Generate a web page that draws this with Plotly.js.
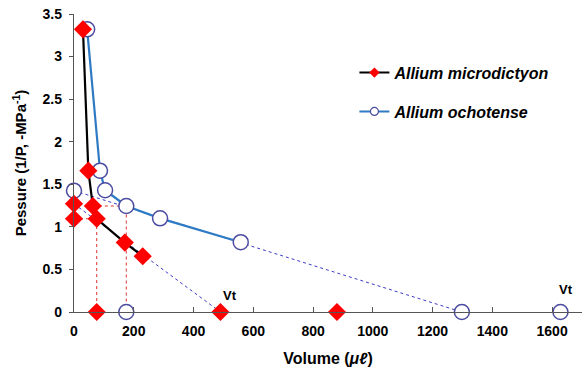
<!DOCTYPE html>
<html>
<head>
<meta charset="utf-8">
<script src="https://cdn.plot.ly/plotly-3.0.1.min.js"></script>
<style>html,body{margin:0;padding:0;background:#fff;}#chart{width:584px;height:374px;}</style>
</head>
<body>
<div id="chart"></div>
<script>
// Allium microdictyon (curve)
const microX = [30, 48, 63, 76, 170, 230];
const microY = [3.32, 1.66, 1.245, 1.095, 0.815, 0.655];
// Allium microdictyon extra points (intercepts / Vt)
const microExtraX = [0, 0, 76, 490, 880];
const microExtraY = [1.27, 1.095, 0, 0, 0];
// Allium ochotense (curve)
const ochoX = [44, 87, 104, 175, 288, 558];
const ochoY = [3.32, 1.66, 1.43, 1.245, 1.10, 0.82];
// Allium ochotense extra points
const ochoExtraX = [0, 175, 1298, 1628];
const ochoExtraY = [1.425, 0, 0, 0];
// Extrapolation lines (blue dashed)
const microFitX = [0, 490];
const microFitY = [1.27, 0];
const ochoFitX = [0, 1298];
const ochoFitY = [1.425, 0];
// Red dashed guide lines
const guide1X = [0, 76, 76];
const guide1Y = [1.095, 1.095, 0];
const guide2X = [63, 175, 175];
const guide2Y = [1.245, 1.245, 0];
// Vt labels
const vtX = [490, 1628];
const vtLabels = ['Vt', 'Vt'];
const seriesNames = ['Allium microdictyon', 'Allium ochotense'];

const redDiamond = {symbol: 'diamond', size: 14, color: '#FF0000', line: {width: 0}};
const blueCircle = {symbol: 'circle', size: 15, color: '#FFFFFF', line: {width: 1.5, color: '#4B4BA0'}};

const traces = [
  {x: guide1X, y: guide1Y, mode: 'lines', line: {color: '#E03030', width: 1, dash: 'dot'}, showlegend: false, hoverinfo: 'skip'},
  {x: guide2X, y: guide2Y, mode: 'lines', line: {color: '#E03030', width: 1, dash: 'dot'}, showlegend: false, hoverinfo: 'skip'},
  {x: microFitX, y: microFitY, mode: 'lines', line: {color: '#3B3BC8', width: 1, dash: 'dot'}, showlegend: false, hoverinfo: 'skip'},
  {x: ochoFitX, y: ochoFitY, mode: 'lines', line: {color: '#3B3BC8', width: 1, dash: 'dot'}, showlegend: false, hoverinfo: 'skip'},
  {x: ochoX, y: ochoY, mode: 'lines+markers', showlegend: false,
   line: {color: '#2E7BC4', width: 2.2}, marker: blueCircle, cliponaxis: false},
  {x: ochoExtraX, y: ochoExtraY, mode: 'markers', marker: blueCircle, showlegend: false, cliponaxis: false},
  {x: microX, y: microY, mode: 'lines+markers', showlegend: false,
   line: {color: '#000000', width: 2.2}, marker: redDiamond, cliponaxis: false},
  {x: microExtraX, y: microExtraY, mode: 'markers', marker: redDiamond, showlegend: false, cliponaxis: false},
  // legend entries with small symbols
  {x: [null], y: [null], mode: 'lines+markers', name: '<b><i>' + seriesNames[0] + '</i></b>', legendgroup: 'a', legendrank: 1,
   line: {color: '#000000', width: 2}, marker: {symbol: 'diamond', size: 8, color: '#FF0000'}},
  {x: [null], y: [null], mode: 'lines+markers', name: '<b><i>' + seriesNames[1] + '</i></b>', legendgroup: 'b', legendrank: 2,
   line: {color: '#2E7BC4', width: 2}, marker: {symbol: 'circle', size: 8, color: '#FFFFFF', line: {width: 1.2, color: '#4B4BA0'}}}
];

const layout = {
  width: 584, height: 374,
  margin: {l: 74, r: 2, t: 14, b: 62},
  paper_bgcolor: '#FFFFFF', plot_bgcolor: '#FFFFFF',
  font: {family: 'Liberation Sans, Arial, sans-serif', color: '#000000'},
  showlegend: true,
  legend: {x: 0.552, y: 0.86, xanchor: 'left', yanchor: 'top', bgcolor: 'rgba(0,0,0,0)',
           font: {size: 16, color: '#000'}, tracegroupgap: 15, itemwidth: 30},
  xaxis: {
    range: [0, 1700], tickvals: [0, 200, 400, 600, 800, 1000, 1200, 1400, 1600],
    ticks: 'inside', ticklen: 5, tickcolor: '#555', showgrid: false, zeroline: false,
    showline: true, linecolor: '#555', linewidth: 1.2, ticklabelstandoff: 6,
    tickfont: {size: 14, family: 'Liberation Sans, Arial, sans-serif', weight: 'bold'},
    title: {text: '<b>Volume (<i>μℓ</i>)</b>', font: {size: 16}, standoff: 14}
  },
  yaxis: {
    range: [0, 3.5], tickvals: [0, 0.5, 1, 1.5, 2, 2.5, 3, 3.5], ticktext: ['0','0.5','1','1.5','2','2.5','3','3.5'],
    ticks: 'outside', ticklen: 4, tickcolor: '#555', showgrid: false, zeroline: false,
    showline: true, linecolor: '#555', linewidth: 1.2, ticklabelstandoff: 4,
    tickfont: {size: 14, family: 'Liberation Sans, Arial, sans-serif', weight: 'bold'},
    title: {text: '<b>Pessure (1/P, -MPa<sup>-1</sup>)</b>', font: {size: 15}, standoff: 12}
  },
  annotations: [
    {x: vtX[0], y: 0, text: '<b>' + vtLabels[0] + '</b>', showarrow: false, yshift: 17, xshift: 10, font: {size: 13}},
    {x: vtX[1], y: 0, text: '<b>' + vtLabels[1] + '</b>', showarrow: false, yshift: 23, xshift: 6, font: {size: 13}}
  ]
};

Plotly.newPlot('chart', traces, layout, {displayModeBar: false, staticPlot: true});
</script>
</body>
</html>
